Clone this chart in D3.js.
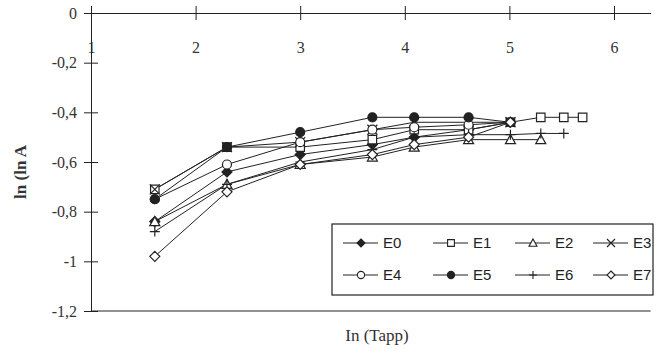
<!DOCTYPE html>
<html>
<head>
<meta charset="utf-8">
<script src="https://cdn.jsdelivr.net/npm/d3@7"></script>
<style>
  body { margin: 0; background: #fff; }
  svg { display: block; }
</style>
</head>
<body>
<div id="chart"></div>
<script>
// x positions (ln of time) shared by all series
const xValues = [1.61, 2.30, 3.00, 3.69, 4.09, 4.61, 5.01, 5.30, 5.52, 5.70];

const seriesNames = ["E0", "E1", "E2", "E3", "E4", "E5", "E6", "E7"];
const seriesMarkers = ["diamondFilled", "square", "triangle", "cross", "circle", "circleFilled", "plus", "diamond"];

const E0 = [-0.84, -0.64, -0.57, -0.53, -0.50, -0.47, -0.44];
const E1 = [-0.71, -0.54, -0.54, -0.51, -0.47, -0.47, -0.44, -0.42, -0.42, -0.42];
const E2 = [-0.84, -0.69, -0.61, -0.58, -0.54, -0.51, -0.51, -0.51];
const E3 = [-0.71, -0.54, -0.52, -0.47, -0.44, -0.44, -0.44];
const E4 = [-0.75, -0.61, -0.52, -0.47, -0.46, -0.45, -0.44];
const E5 = [-0.75, -0.54, -0.48, -0.42, -0.42, -0.42, -0.44];
const E6 = [-0.88, -0.69, -0.60, -0.55, -0.50, -0.49, -0.49, -0.485, -0.485];
const E7 = [-0.98, -0.72, -0.61, -0.57, -0.53, -0.50, -0.44];

const seriesValues = [E0, E1, E2, E3, E4, E5, E6, E7];

const xTicks = [1, 2, 3, 4, 5, 6];
const yTicks = [0, -0.2, -0.4, -0.6, -0.8, -1, -1.2];

const width = 657;
const height = 364;
const ink = "#222";

const svg = d3.select("#chart").append("svg")
  .attr("width", width)
  .attr("height", height);

const x = d3.scaleLinear().domain([1, 6.35]).range([91, 650.6]);
const y = d3.scaleLinear().domain([-1.2, 0]).range([311, 13]);

// marker path drawn around (0,0)
function markerPath(type, s) {
  const p = d3.path();
  if (type === "diamond" || type === "diamondFilled") {
    p.moveTo(0, -s); p.lineTo(s, 0); p.lineTo(0, s); p.lineTo(-s, 0); p.closePath();
  } else if (type === "square") {
    p.rect(-s * 0.85, -s * 0.85, s * 1.7, s * 1.7);
  } else if (type === "triangle") {
    p.moveTo(0, -s); p.lineTo(s, s * 0.8); p.lineTo(-s, s * 0.8); p.closePath();
  } else if (type === "cross") {
    p.moveTo(-s, -s); p.lineTo(s, s); p.moveTo(s, -s); p.lineTo(-s, s);
  } else if (type === "plus") {
    p.moveTo(-s, 0); p.lineTo(s, 0); p.moveTo(0, -s); p.lineTo(0, s);
  } else {
    p.arc(0, 0, s * 0.9, 0, 2 * Math.PI);
  }
  return p.toString();
}

function markerFill(type) {
  if (type === "diamondFilled" || type === "circleFilled") return ink;
  if (type === "cross" || type === "plus") return "none";
  return "#fff";
}

// axes
const xAxis = svg.append("g")
  .attr("transform", "translate(0," + y(0) + ")")
  .call(d3.axisBottom(x).tickValues(xTicks).tickSize(7).tickSizeOuter(0).tickFormat(d3.format("d")));
xAxis.select(".domain").attr("stroke", ink);
xAxis.selectAll(".tick line").attr("y1", -7).attr("y2", 7).attr("stroke", ink);
xAxis.selectAll(".tick text")
  .attr("y", 29)
  .attr("font-family", "Liberation Serif, serif")
  .attr("font-size", 16)
  .attr("fill", "#333");

const yAxis = svg.append("g")
  .attr("transform", "translate(" + x(1) + ",0)")
  .call(d3.axisLeft(y).tickValues(yTicks).tickSize(6).tickSizeOuter(0)
    .tickFormat(d => d === 0 ? "0" : String(d).replace(".", ",")));
yAxis.select(".domain").attr("stroke", ink);
yAxis.selectAll(".tick line").attr("x1", -7).attr("x2", 7).attr("stroke", ink);
yAxis.selectAll(".tick text")
  .attr("x", -14)
  .attr("font-family", "Liberation Serif, serif")
  .attr("font-size", 16)
  .attr("fill", "#333");

// bottom frame line
svg.append("line")
  .attr("x1", x(1)).attr("x2", x(6.35))
  .attr("y1", y(-1.2)).attr("y2", y(-1.2))
  .attr("stroke", ink);

// axis titles
svg.append("text")
  .attr("transform", "translate(26,172) rotate(-90)")
  .attr("text-anchor", "middle")
  .attr("font-family", "Liberation Serif, serif")
  .attr("font-weight", "bold")
  .attr("font-size", 17)
  .attr("fill", "#333")
  .text("ln (ln A");

svg.append("text")
  .attr("x", 377).attr("y", 341)
  .attr("text-anchor", "middle")
  .attr("font-family", "Liberation Serif, serif")
  .attr("font-size", 17)
  .attr("fill", "#333")
  .text("In (Tapp)");

// series lines
const line = d3.line().x(d => x(d[0])).y(d => y(d[1]));
seriesValues.forEach((vals, i) => {
  const pts = vals.map((v, j) => [xValues[j], v]);
  svg.append("path")
    .datum(pts)
    .attr("d", line)
    .attr("fill", "none")
    .attr("stroke", ink)
    .attr("stroke-width", 1);
});

// series markers
seriesValues.forEach((vals, i) => {
  const type = seriesMarkers[i];
  svg.append("g").selectAll("path")
    .data(vals.map((v, j) => [xValues[j], v]))
    .enter().append("path")
    .attr("transform", d => "translate(" + x(d[0]) + "," + y(d[1]) + ")")
    .attr("d", markerPath(type, 5))
    .attr("fill", markerFill(type))
    .attr("stroke", ink)
    .attr("stroke-width", 1.2);
});

// legend
const legend = svg.append("g");
legend.append("rect")
  .attr("x", 332).attr("y", 224)
  .attr("width", 321).attr("height", 71)
  .attr("fill", "#fff")
  .attr("stroke", ink)
  .attr("stroke-width", 1.2);

const legendCols = [361, 451, 533, 611];
const legendRows = [243, 275];
seriesNames.forEach((name, i) => {
  const cx = legendCols[i % 4];
  const cy = legendRows[Math.floor(i / 4)];
  const type = seriesMarkers[i];
  legend.append("line")
    .attr("x1", cx - 18).attr("x2", cx + 17)
    .attr("y1", cy).attr("y2", cy)
    .attr("stroke", ink);
  legend.append("path")
    .attr("transform", "translate(" + cx + "," + cy + ")")
    .attr("d", markerPath(type, 4))
    .attr("fill", markerFill(type))
    .attr("stroke", ink)
    .attr("stroke-width", 1.1);
  legend.append("text")
    .attr("x", cx + 22).attr("y", cy + 5)
    .attr("font-family", "Liberation Sans, Arial, sans-serif")
    .attr("font-size", 15)
    .attr("fill", "#222")
    .text(name);
});
</script>
</body>
</html>
